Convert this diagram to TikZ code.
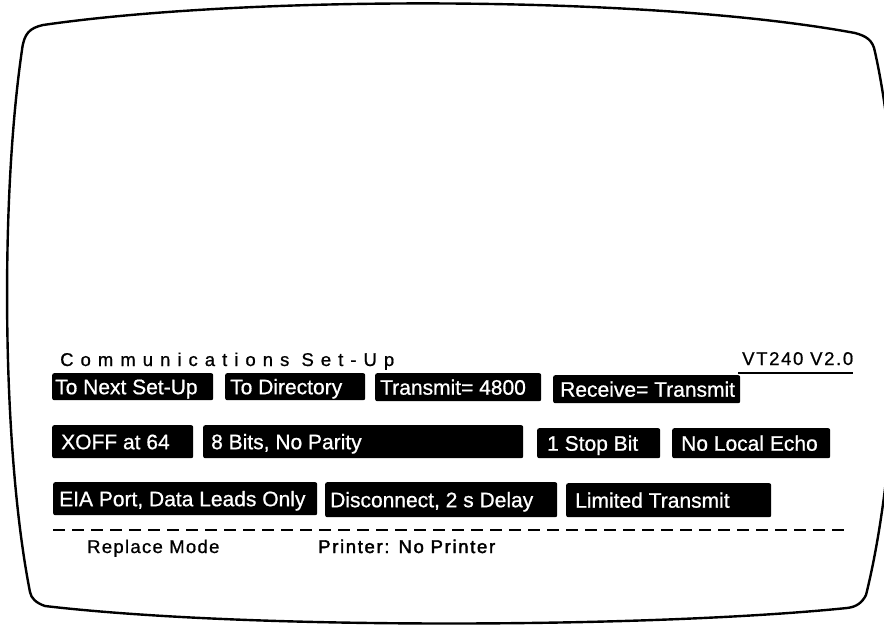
\documentclass[tikz,border=0pt]{standalone}
\usepackage{fontspec}
\setmainfont[FakeBold=0.8]{Liberation Sans}
\newfontfamily\prnfont[FakeBold=2.2]{Liberation Sans}
\newcommand{\lab}[3]{\makebox[#1][l]{\hspace*{#2}#3}}
\begin{document}
\begin{tikzpicture}[x=1pt,y=-1pt,
  btn/.style={fill=black, text=white, rounded corners=2pt, anchor=north west,
    inner xsep=0pt, inner ysep=0pt, text height=15pt, text depth=0pt,
    font=\fontsize{21}{24}\selectfont},
  lbl/.style={anchor=base west, inner sep=0pt},
  screen/.style={line width=2.4pt, line join=round}]
\clip (0,0) rectangle (884,625);
\fill[white] (0,0) rectangle (884,625);
% screen outline
\draw[screen] (22,50) .. controls (24,33) and (30,28) .. (43,25)
  .. controls (250,-5) and (650,-5) .. (855,33)
  .. controls (866,36) and (873,40) .. (875,52)
  .. controls (908,200) and (902,450) .. (866,595)
  .. controls (862,603) and (856,607) .. (847,608)
  .. controls (650,628) and (250,630) .. (45,606)
  .. controls (36,603) and (31,598) .. (30,592)
  .. controls (2,450) and (0,200) .. (22,50) -- cycle;
% header
\node[lbl, font={\fontsize{18.5}{22}\selectfont\addfontfeatures{LetterSpace=38}}] (title) at (60,366) {Communications Set-Up};
\node[lbl, font={\fontsize{18.5}{22}\selectfont\addfontfeatures{LetterSpace=9}}] (ver) at (742,365) {VT240 V2.0};
\coordinate (ulA) at (738,373);
\coordinate (ulB) at (853,373);
\draw[line width=1.5pt] (ulA) -- (ulB);
% row 1
\node[btn, minimum height=27pt] (b1) at (52,373) {\lab{161pt}{3pt}{To Next Set-Up}};
\node[btn, minimum height=27pt] (b2) at (225,373) {\lab{140pt}{5pt}{To Directory}};
\node[btn, minimum height=28pt] (b3) at (375,373) {\lab{166pt}{5pt}{Transmit= 4800}};
\node[btn, minimum height=28pt] (b4) at (553,375) {\lab{187pt}{7pt}{Receive= Transmit}};
% row 2
\node[btn, minimum height=33pt] (c1) at (52,425) {\lab{141pt}{9pt}{XOFF at 64}};
\node[btn, minimum height=33pt] (c2) at (203,425) {\lab{320pt}{8pt}{8 Bits, No Parity}};
\node[btn, minimum height=30pt] (c3) at (537,428) {\lab{123pt}{10pt}{1 Stop Bit}};
\node[btn, minimum height=30pt] (c4) at (672,428) {\lab{158pt}{9pt}{No Local Echo}};
% row 3
\node[btn, minimum height=33pt] (d1) at (53,482) {\lab{264pt}{6pt}{EIA Port, Data Leads Only}};
\node[btn, minimum height=35pt] (d2) at (325,482) {\lab{232pt}{5pt}{Disconnect, 2 s Delay}};
\node[btn, minimum height=34pt] (d3) at (566,483) {\lab{205pt}{9pt}{Limited Transmit}};
% dashed separator
\coordinate (dA) at (53,530);
\coordinate (dB) at (848,530);
\draw[line width=1.5pt, dash pattern=on 12pt off 7pt] (dA) -- (dB);
% status line
\node[lbl, font={\fontsize{18.5}{22}\selectfont\addfontfeatures{LetterSpace=7}}] (mode) at (87,553) {Replace Mode};
\node[lbl, font={\prnfont\fontsize{18.5}{22}\selectfont\addfontfeatures{LetterSpace=9}}] (prn) at (318,553) {Printer: No Printer};
\end{tikzpicture}
\end{document}
